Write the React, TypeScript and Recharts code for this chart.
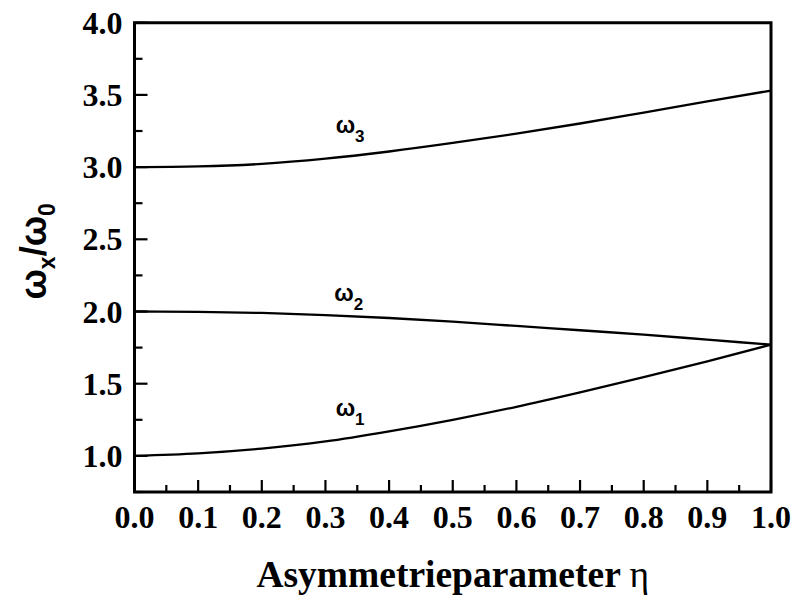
import React from "react"
import { LineChart, Line, XAxis, YAxis, ReferenceArea, ReferenceDot } from "recharts"

// ─── Data ─────────────────────────────────────────────────────────────────────

const ETA = [0, 0.1, 0.2, 0.3, 0.4, 0.5, 0.6, 0.7, 0.8, 0.9, 1.0]
const OMEGA_1 = [1.0, 1.017, 1.05, 1.1, 1.17, 1.25, 1.34, 1.44, 1.545, 1.655, 1.77]
const OMEGA_2 = [2.0, 1.998, 1.99, 1.975, 1.955, 1.93, 1.9, 1.87, 1.84, 1.805, 1.77]
const OMEGA_3 = [3.0, 3.005, 3.022, 3.058, 3.108, 3.167, 3.232, 3.302, 3.378, 3.455, 3.53]

const X_TICKS = [0, 0.05, 0.1, 0.15, 0.2, 0.25, 0.3, 0.35, 0.4, 0.45, 0.5, 0.55, 0.6, 0.65, 0.7, 0.75, 0.8, 0.85, 0.9, 0.95, 1.0]
const Y_TICKS = [0.75, 1.0, 1.25, 1.5, 1.75, 2.0, 2.25, 2.5, 2.75, 3.0, 3.25, 3.5, 3.75, 4.0]

// curve annotations: [eta, value, subscript]
const CURVE_LABELS: [number, number, string][] = [
  [0.316, 3.238, "3"],
  [0.314, 2.07, "2"],
  [0.316, 1.277, "1"],
]

const data = ETA.map((eta, i) => ({ eta, w1: OMEGA_1[i], w2: OMEGA_2[i], w3: OMEGA_3[i] }))

// ─── Styling ──────────────────────────────────────────────────────────────────

const SERIF = "'Liberation Serif', 'Times New Roman', serif"
const SANS = "'Liberation Sans', Arial, sans-serif"
const INK = "#000"

const isMajorX = (v: number) => Math.abs(v * 10 - Math.round(v * 10)) < 1e-6
const isMajorY = (v: number) => Math.abs(v * 2 - Math.round(v * 2)) < 1e-6

function XTick({ x, y, payload }: any) {
  const major = isMajorX(payload.value)
  return (
    <g>
      <line x1={x} x2={x} y1={y} y2={y - (major ? 12 : 7)} stroke={INK} strokeWidth={2.2} />
      {major && (
        <text x={x} y={y + 36} textAnchor="middle" fontFamily={SERIF} fontWeight="bold" fontSize={32} fill={INK}>
          {payload.value.toFixed(1)}
        </text>
      )}
    </g>
  )
}

function YTick({ x, y, payload }: any) {
  const major = isMajorY(payload.value)
  return (
    <g>
      <line x1={x} x2={x + (major ? 13 : 8)} y1={y} y2={y} stroke={INK} strokeWidth={2.2} />
      {major && (
        <text x={x - 12} y={y + 11} textAnchor="end" fontFamily={SERIF} fontWeight="bold" fontSize={32} fill={INK}>
          {payload.value.toFixed(1)}
        </text>
      )}
    </g>
  )
}

function XTitle({ viewBox }: any) {
  const cx = viewBox.x + viewBox.width / 2
  return (
    <text x={cx} y={viewBox.y + 95} textAnchor="middle" fontFamily={SERIF} fontWeight="bold" fontSize={37.5} fill={INK}>
      Asymmetrieparameter <tspan fontWeight="normal">η</tspan>
    </text>
  )
}

function YTitle({ viewBox }: any) {
  const cy = viewBox.y + viewBox.height / 2 - 6
  const bx = 46
  return (
    <text
      x={bx}
      y={cy}
      transform={`rotate(-90, ${bx}, ${cy})`}
      textAnchor="middle"
      fontFamily={SANS}
      fontWeight="bold"
      fontSize={36}
      fill={INK}
    >
      ω<tspan fontSize={23} dy={9}>x</tspan>
      <tspan dy={-9}>/ω</tspan>
      <tspan fontSize={23} dy={9}>0</tspan>
    </text>
  )
}

function CurveLabel({ cx, cy, sub }: any) {
  return (
    <text x={cx} y={cy} fontFamily={SANS} fontWeight="bold" fontSize={23} fill={INK}>
      ω<tspan fontSize={17} dy={9}>{sub}</tspan>
    </text>
  )
}

export default function App() {
  return (
    <div style={{ position: "absolute", left: 0, top: 0, background: "#fff" }}>
      <LineChart
        width={793}
        height={601}
        data={data}
        margin={{ top: 22.7, right: 22, bottom: 108, left: 133.5 }}
      >
        <XAxis
          dataKey="eta"
          type="number"
          domain={[0, 1]}
          ticks={X_TICKS}
          interval={0}
          height={1}
          axisLine={false}
          tickLine={false}
          tickSize={0}
          tickMargin={0}
          tick={(p: any) => <XTick {...p} />}
          label={{ content: (p: any) => <XTitle viewBox={p.viewBox} /> }}
        />
        <YAxis
          type="number"
          domain={[0.75, 4]}
          ticks={Y_TICKS}
          interval={0}
          width={1}
          axisLine={false}
          tickLine={false}
          tickSize={0}
          tickMargin={0}
          tick={(p: any) => <YTick {...p} />}
          label={{ content: (p: any) => <YTitle viewBox={p.viewBox} /> }}
        />
        <ReferenceArea x1={0} x2={1} y1={0.75} y2={4} fill="none" stroke={INK} strokeWidth={3} />
        <Line type="monotone" dataKey="w1" stroke={INK} strokeWidth={2.3} dot={false} isAnimationActive={false} />
        <Line type="monotone" dataKey="w2" stroke={INK} strokeWidth={2.3} dot={false} isAnimationActive={false} />
        <Line type="monotone" dataKey="w3" stroke={INK} strokeWidth={2.3} dot={false} isAnimationActive={false} />
        {CURVE_LABELS.map(([eta, v, sub]) => (
          <ReferenceDot
            key={sub}
            x={eta}
            y={v}
            r={0}
            shape={(p: any) => <CurveLabel cx={p.cx} cy={p.cy} sub={sub} />}
          />
        ))}
      </LineChart>
    </div>
  )
}
